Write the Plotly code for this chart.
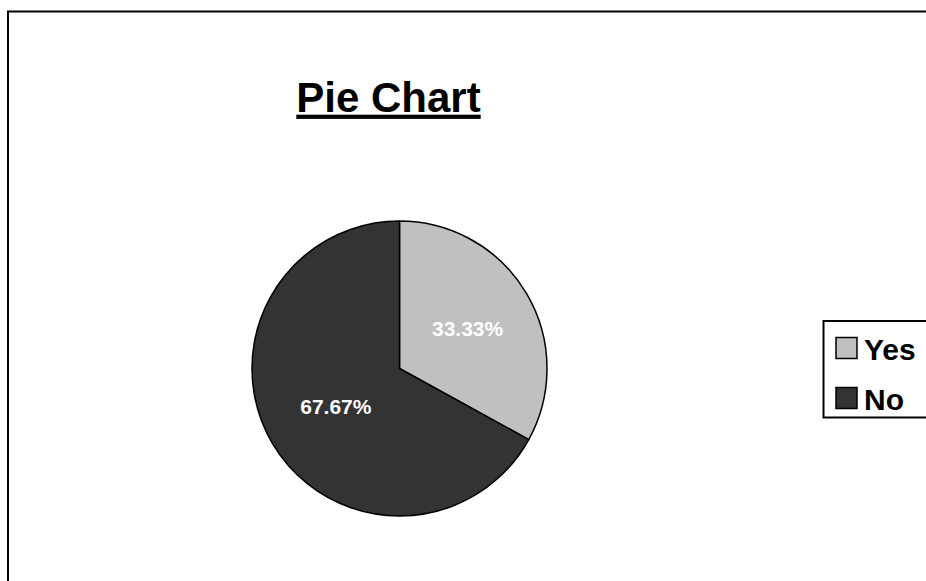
import plotly.graph_objects as go

# Survey answers and their shares (percent)
labels = ["Yes", "No"]
shares = [33.33, 67.67]
colors = ["#C0C0C0", "#333333"]

W, H = 926, 581
FONT = "Arial, Liberation Sans"


def px(x):
    return x / W


def py(y):
    return 1 - y / H


fig = go.Figure(
    go.Pie(
        labels=labels,
        values=shares,
        sort=False,
        direction="clockwise",
        rotation=0,
        marker=dict(colors=colors, line=dict(color="#000000", width=1.5)),
        texttemplate="%{value:.2f}%",
        textposition="inside",
        insidetextorientation="horizontal",
        textfont=dict(family=FONT, size=21, color="#FFFFFF", weight="bold"),
        hoverinfo="label+value",
        showlegend=False,
        domain=dict(x=[px(252), px(547)], y=[py(516), py(221)]),
    )
)

# Outer chart frame (runs off the right and bottom edges)
shapes = [
    dict(
        type="rect", xref="paper", yref="paper",
        x0=px(8), x1=1.2, y0=-0.2, y1=py(11.5),
        line=dict(color="#000000", width=2), fillcolor="rgba(0,0,0,0)", layer="below",
    ),
    # legend box
    dict(
        type="rect", xref="paper", yref="paper",
        x0=px(823.5), x1=1.2, y0=py(417.5), y1=py(321),
        line=dict(color="#000000", width=2), fillcolor="#FFFFFF", layer="below",
    ),
]

annotations = []
row_y = [348, 398]
for name, col, cy in zip(labels, colors, row_y):
    shapes.append(
        dict(
            type="rect", xref="paper", yref="paper",
            x0=px(836), x1=px(857), y0=py(cy + 10.5), y1=py(cy - 10.5),
            line=dict(color="#000000", width=1.5), fillcolor=col, layer="above",
        )
    )
    annotations.append(
        dict(
            text=f"<b>{name}</b>", xref="paper", yref="paper",
            x=px(862), y=py(cy + 1), xanchor="left", yanchor="middle",
            showarrow=False, font=dict(family=FONT, size=30, color="#000000"),
        )
    )

fig.update_layout(
    width=W,
    height=H,
    margin=dict(l=0, r=0, t=0, b=0, autoexpand=False),
    paper_bgcolor="#FFFFFF",
    plot_bgcolor="#FFFFFF",
    font=dict(family=FONT, color="#000000"),
    showlegend=False,
    title=dict(
        text="<b><u>Pie Chart</u></b>",
        x=px(388.5),
        xanchor="center",
        y=py(97),
        yanchor="middle",
        font=dict(size=42, family=FONT, color="#000000"),
    ),
    shapes=shapes,
    annotations=annotations,
)

fig.write_html("out.html")
